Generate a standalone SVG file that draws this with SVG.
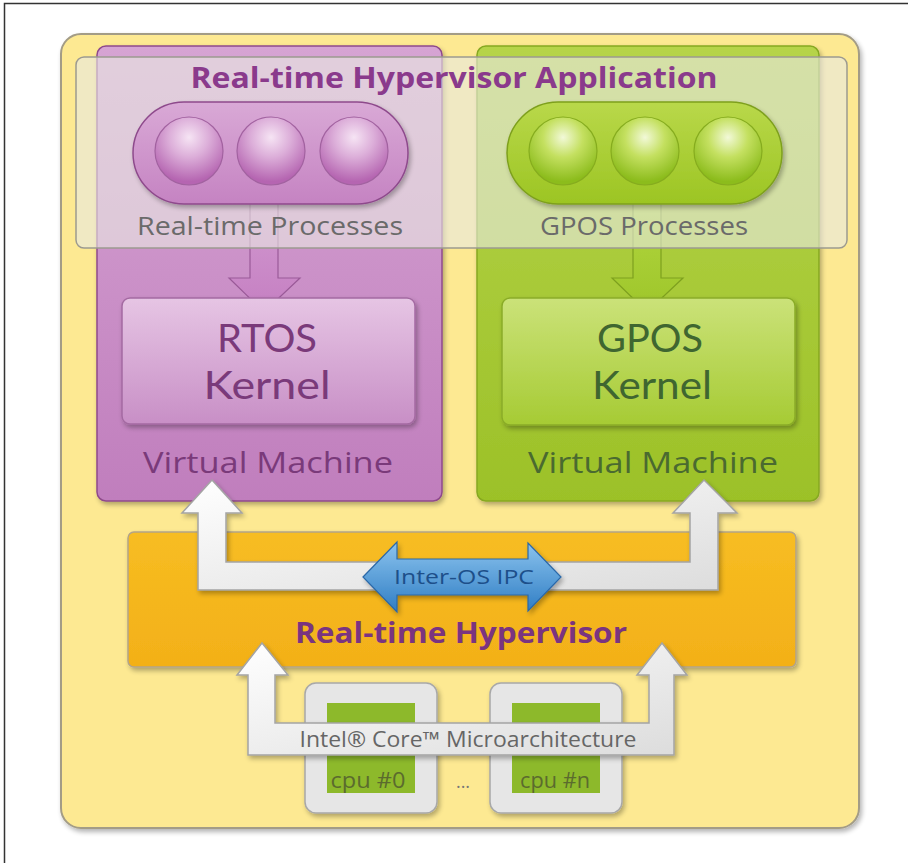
<svg xmlns="http://www.w3.org/2000/svg" width="908" height="863" viewBox="0 0 908 863">
<defs>
<style>
text{font-family:"Open Sans","Noto Sans","Liberation Sans",sans-serif;text-anchor:middle}
.title{font-weight:bold;font-size:28px;fill:#8a3a8c}
.proc{font-size:25px;fill:#6a6a6a}
.kp{font-family:Lato,"Open Sans",sans-serif;font-size:38px;fill:#7a3a7a}
.kg{font-family:Lato,"Open Sans",sans-serif;font-size:38px;fill:#3f6630}
.vmp{font-size:30px;fill:#7a3a7a}
.vmg{font-size:30px;fill:#4a6a30}
.hyp{font-weight:bold;font-size:29px;fill:#7a3480}
.ipc{font-size:20px;fill:#1d4f8a}
.intel{font-size:21px;fill:#666}
.cpu{font-size:21px;fill:#5b6b2e}
.wa{fill:url(#white);stroke:#a4a4a4;stroke-width:1.5;filter:url(#sh)}
</style>
<filter id="sh" x="-10%" y="-10%" width="130%" height="130%">
<feGaussianBlur in="SourceAlpha" stdDeviation="2.5"/>
<feOffset dx="2" dy="3" result="b"/>
<feComponentTransfer><feFuncA type="linear" slope="0.3"/></feComponentTransfer>
<feMerge><feMergeNode/><feMergeNode in="SourceGraphic"/></feMerge>
</filter>
<linearGradient id="pvm" x1="0" y1="0" x2="0" y2="1"><stop offset="0" stop-color="#d6a4d3"/><stop offset="1" stop-color="#c07ebd"/></linearGradient>
<linearGradient id="gvm" x1="0" y1="0" x2="0" y2="1"><stop offset="0" stop-color="#b6d44a"/><stop offset="1" stop-color="#9cc128"/></linearGradient>
<linearGradient id="pk" x1="0" y1="0" x2="0" y2="1"><stop offset="0" stop-color="#e6c5e4"/><stop offset="1" stop-color="#c88fc6"/></linearGradient>
<linearGradient id="gk" x1="0" y1="0" x2="0" y2="1"><stop offset="0" stop-color="#cbe279"/><stop offset="1" stop-color="#a6cb34"/></linearGradient>
<linearGradient id="ppill" x1="0" y1="0" x2="0" y2="1"><stop offset="0" stop-color="#d9a9d6"/><stop offset="1" stop-color="#c583c2"/></linearGradient>
<linearGradient id="gpill" x1="0" y1="0" x2="0" y2="1"><stop offset="0" stop-color="#b9d84a"/><stop offset="1" stop-color="#9cc523"/></linearGradient>
<radialGradient id="pball" cx="0.5" cy="0.3" r="0.65"><stop offset="0" stop-color="#f6e4f4"/><stop offset="0.45" stop-color="#dcaed9"/><stop offset="1" stop-color="#b565b1"/></radialGradient>
<radialGradient id="gball" cx="0.5" cy="0.3" r="0.65"><stop offset="0" stop-color="#f2f9d8"/><stop offset="0.45" stop-color="#c4e060"/><stop offset="1" stop-color="#8cbc1c"/></radialGradient>
<linearGradient id="white" x1="0" y1="0" x2="1" y2="1"><stop offset="0" stop-color="#ffffff"/><stop offset="1" stop-color="#dcdcdc"/></linearGradient>
<linearGradient id="blue" x1="0" y1="0" x2="0" y2="1"><stop offset="0" stop-color="#8cc4ee"/><stop offset="1" stop-color="#2f7dc4"/></linearGradient>
<linearGradient id="orange" x1="0" y1="0" x2="0" y2="1"><stop offset="0" stop-color="#f7bd22"/><stop offset="1" stop-color="#f3b018"/></linearGradient>
<linearGradient id="pdown" x1="0" y1="0" x2="0" y2="1"><stop offset="0" stop-color="#d29ad0"/><stop offset="1" stop-color="#c57fc2"/></linearGradient>
<linearGradient id="gdown" x1="0" y1="0" x2="0" y2="1"><stop offset="0" stop-color="#b2d640"/><stop offset="1" stop-color="#9ec62a"/></linearGradient>
</defs>

<rect x="4.5" y="3.5" width="1000" height="1000" fill="#fff" stroke="#333" stroke-width="1.5"/>

<g id="platform">
<rect x="61" y="34" width="798" height="794" rx="20" fill="#fde992" stroke="#a39c86" stroke-width="2" filter="url(#sh)"/>
</g>

<g id="rtos-vm">
<rect x="97" y="46" width="345" height="455" rx="9" fill="url(#pvm)" stroke="#8e4a8c" stroke-width="1.5" filter="url(#sh)"/>
</g>
<g id="gpos-vm">
<rect x="477" y="46" width="342" height="455" rx="9" fill="url(#gvm)" stroke="#86a820" stroke-width="1.5" filter="url(#sh)"/>
</g>

<g id="connectors">
<path d="M250,200 L278,200 L278,278 L300,278 L264,312 L229,278 L250,278 Z" fill="url(#pdown)" stroke="#9a5a98" stroke-width="1.2"/>
<path d="M633,200 L661,200 L661,278 L683,278 L647,312 L612,278 L633,278 Z" fill="url(#gdown)" stroke="#7ea01e" stroke-width="1.2"/>
</g>

<g id="rtos-kernel">
<rect x="122" y="298" width="293" height="126" rx="8" fill="url(#pk)" stroke="#a46aa2" stroke-width="1.5" filter="url(#sh)"/>
<text class="kp" x="267" y="352" textLength="100" lengthAdjust="spacingAndGlyphs">RTOS</text>
<text class="kp" x="267" y="399" textLength="127" lengthAdjust="spacingAndGlyphs">Kernel</text>
<text class="vmp" x="268" y="473" textLength="250" lengthAdjust="spacingAndGlyphs">Virtual Machine</text>
</g>
<g id="gpos-kernel">
<rect x="502" y="298" width="293" height="127" rx="8" fill="url(#gk)" stroke="#8aac28" stroke-width="1.5" filter="url(#sh)"/>
<text class="kg" x="650" y="352" textLength="106" lengthAdjust="spacingAndGlyphs">GPOS</text>
<text class="kg" x="652" y="399" textLength="120" lengthAdjust="spacingAndGlyphs">Kernel</text>
<text class="vmg" x="653" y="473" textLength="250" lengthAdjust="spacingAndGlyphs">Virtual Machine</text>
</g>

<g id="application">
<rect x="76" y="57" width="771" height="191" rx="8" fill="#e8e8e2" fill-opacity="0.62" stroke="#9c9a90" stroke-width="1.5"/>
<text class="title" x="454" y="88" textLength="527" lengthAdjust="spacingAndGlyphs">Real-time Hypervisor Application</text>
</g>

<g id="rt-processes">
<rect x="133" y="102" width="275" height="102" rx="51" fill="url(#ppill)" stroke="#8e4a8c" stroke-width="1.5" filter="url(#sh)"/>
<circle cx="189" cy="151" r="34" fill="url(#pball)" stroke="#a262a0" stroke-width="1.2"/>
<circle cx="271" cy="151" r="34" fill="url(#pball)" stroke="#a262a0" stroke-width="1.2"/>
<circle cx="354" cy="151" r="34" fill="url(#pball)" stroke="#a262a0" stroke-width="1.2"/>
<text class="proc" x="270" y="235" textLength="266" lengthAdjust="spacingAndGlyphs">Real-time Processes</text>
</g>
<g id="gpos-processes">
<rect x="507" y="102" width="275" height="102" rx="51" fill="url(#gpill)" stroke="#7ea01e" stroke-width="1.5" filter="url(#sh)"/>
<circle cx="563" cy="151" r="34" fill="url(#gball)" stroke="#86ac1e" stroke-width="1.2"/>
<circle cx="645" cy="151" r="34" fill="url(#gball)" stroke="#86ac1e" stroke-width="1.2"/>
<circle cx="728" cy="151" r="34" fill="url(#gball)" stroke="#86ac1e" stroke-width="1.2"/>
<text class="proc" x="644" y="235" textLength="208" lengthAdjust="spacingAndGlyphs">GPOS Processes</text>
</g>

<g id="hypervisor">
<rect x="128" y="532" width="668" height="135" rx="6" fill="url(#orange)" stroke="#b3a488" stroke-width="1.5" filter="url(#sh)"/>
<text class="hyp" x="461" y="643" textLength="332" lengthAdjust="spacingAndGlyphs">Real-time Hypervisor</text>
</g>

<g id="cpu0">
<rect x="305" y="683" width="132" height="130" rx="11" fill="#e6e6e6" stroke="#a8a8a8" stroke-width="1.5" filter="url(#sh)"/>
<rect x="327" y="703" width="88" height="90" fill="#8db92b"/>
<text class="cpu" x="368" y="788" textLength="75" lengthAdjust="spacingAndGlyphs">cpu #0</text>
</g>
<g id="dots">
<text x="463" y="788" style="font-size:18px;fill:#777">...</text>
</g>
<g id="cpun">
<rect x="490" y="683" width="132" height="130" rx="11" fill="#e6e6e6" stroke="#a8a8a8" stroke-width="1.5" filter="url(#sh)"/>
<rect x="512" y="703" width="88" height="90" fill="#8db92b"/>
<text class="cpu" x="555" y="788" textLength="70" lengthAdjust="spacingAndGlyphs">cpu #n</text>
</g>

<g id="vm-links">
<path class="wa" d="M212,480 L242,513 L226,513 L226,562 L690,562 L690,513 L673,513 L704,480 L737,513 L718,513 L718,590 L198,590 L198,513 L182,513 Z"/>
<path d="M363,577 L397,542 L397,559 L528,559 L528,543 L561,577 L528,611 L528,595 L397,595 L397,612 Z" fill="url(#blue)" stroke="#2a68a8" stroke-width="1.2" filter="url(#sh)"/>
<text class="ipc" x="464" y="584" textLength="140" lengthAdjust="spacingAndGlyphs">Inter-OS IPC</text>
</g>

<g id="intel-core">
<path class="wa" d="M262,643 L288,675 L275,675 L275,723 L649,723 L649,675 L637,675 L662,643 L687,675 L674,675 L674,755 L248,755 L248,675 L237,675 Z"/>
<text class="intel" x="468" y="747" textLength="337" lengthAdjust="spacingAndGlyphs">Intel® Core™ Microarchitecture</text>
</g>
</svg>
